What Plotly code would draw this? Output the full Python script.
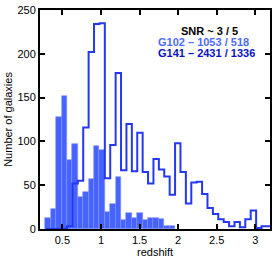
import plotly.graph_objects as go

bin_start = 0.28
bin_width = 0.07
g102_counts = [13, 23, 128, 152, 79, 97, 37, 42, 57, 95, 90, 19, 29, 59, 10, 18, 12, 18, 10, 13, 13, 11, 3, 4]
g141_counts = [0, 0, 0, 0, 3, 52, 55, 116, 202, 234, 235, 58, 96, 178, 67, 120, 66, 110, 65, 52, 80, 68, 60, 39,
               98, 65, 29, 53, 54, 40, 24, 17, 11, 8, 3, 8, 2, 11, 21, 1, 3, 3]
x_ticks = [0.5, 1, 1.5, 2, 2.5, 3]
x_tick_labels = ["0.5", "1", "1.5", "2", "2.5", "3"]
y_ticks = [0, 50, 100, 150, 200, 250]
x_title = "redshift"
y_title = "Number of galaxies"
legend_lines = ["SNR ~ 3 / 5", "G102 – 1053 / 518", "G141 – 2431 / 1336"]

g102_centers = [bin_start + bin_width * (i + 0.5) for i in range(len(g102_counts))]
g141_edges = [bin_start + bin_width * i for i in range(len(g141_counts) + 1)]
g141_steps = g141_counts + [g141_counts[-1]]

FONT = "Liberation Sans, Arial, Helvetica, sans-serif"

fig = go.Figure()
fig.add_trace(go.Bar(
    x=g102_centers, y=g102_counts, width=bin_width,
    marker=dict(color="#4763ff", line=dict(color="#7d90ff", width=0.6)),
    showlegend=False,
))
fig.add_trace(go.Scatter(
    x=g141_edges, y=g141_steps, mode="lines", line_shape="hv",
    line=dict(color="#2438f2", width=2), showlegend=False,
))

axis_common = dict(
    showline=True, linecolor="black", linewidth=2, mirror="ticks",
    ticks="inside", ticklen=5, tickwidth=1.5, tickcolor="black",
    showgrid=False, zeroline=False, automargin=False,
    tickfont=dict(family=FONT, size=11, color="black"),
)
fig.update_xaxes(range=[0.21, 3.19], tickvals=x_ticks, ticktext=x_tick_labels, **axis_common)
fig.update_yaxes(range=[0, 250], tickvals=y_ticks, **axis_common)

fig.add_annotation(text=x_title, xref="paper", yref="paper", x=0.5, y=-0.105,
                   xanchor="center", yanchor="middle", showarrow=False,
                   font=dict(family=FONT, size=11, color="black"))
fig.add_annotation(text=y_title, xref="paper", yref="paper", x=-0.142, y=0.5,
                   xanchor="center", yanchor="middle", showarrow=False, textangle=-90,
                   font=dict(family=FONT, size=11, color="black"))

colors = ["black", "#4d6bff", "#0a12c0"]
ys = [0.902, 0.853, 0.803]
xs = [0.605, 0.505, 0.505]
for txt, c, yy, xx in zip(legend_lines, colors, ys, xs):
    fig.add_annotation(text="<b>" + txt + "</b>", xref="paper", yref="paper", x=xx, y=yy,
                       xanchor="left", yanchor="middle", showarrow=False, height=10,
                       font=dict(family=FONT, size=11, color=c))

fig.update_layout(
    width=275, height=259,
    margin=dict(l=40, r=5, t=10, b=30),
    plot_bgcolor="white", paper_bgcolor="white",
    bargap=0,
)
fig.write_html("out.html", config={"displayModeBar": False},
               post_script="document.body.style.margin='0';document.body.style.overflow='hidden';")
